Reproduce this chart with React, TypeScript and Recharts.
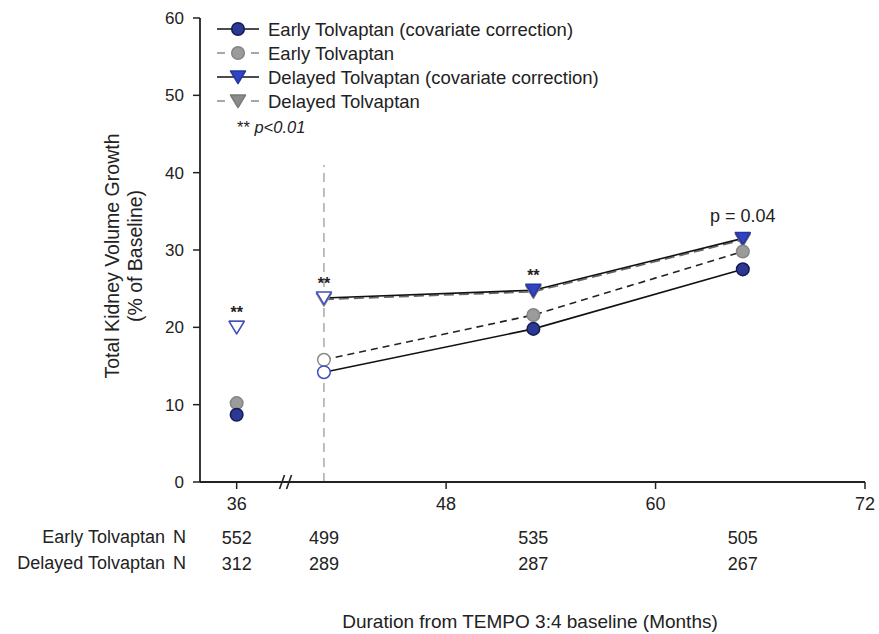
import React from "react";
import {
  ComposedChart,
  Line,
  Scatter,
  XAxis,
  YAxis,
  ReferenceLine,
  ReferenceDot,
} from "recharts";

// months since TEMPO 3:4 baseline
const months = [36, 41, 53, 65];
const earlyCovValues = [8.7, 14.2, 19.8, 27.5];
const earlyValues = [10.2, 15.8, 21.6, 29.8];
const delayedCovValues = [20.0, 23.8, 24.8, 31.5];
const delayedValues = [20.0, 23.6, 24.6, 31.3];
const delayedNotes = ["**", "**", "**", "p = 0.04"];
const earlyN = [552, 499, 535, 505];
const delayedN = [312, 289, 287, 267];
const xTicks = [36, 48, 60, 72];
const yTicks = [0, 10, 20, 30, 40, 50, 60];
const seriesNames = [
  "Early Tolvaptan (covariate correction)",
  "Early Tolvaptan",
  "Delayed Tolvaptan (covariate correction)",
  "Delayed Tolvaptan",
];
const breakMonth = 38.8;
const switchMonth = 41;
const switchLineTop = 41;

const FONT = "'Liberation Sans', Arial, sans-serif";
const TEXT = "#222";
const xDomain = [33.9, 72];

const toRows = (values: number[]) =>
  months.map((month, i) => ({ month, value: values[i] }));

const earlyCovRows = toRows(earlyCovValues);
const earlyRows = toRows(earlyValues);
const delayedCovRows = toRows(delayedCovValues);
const delayedRows = toRows(delayedValues);
const noteRows = months.map((month, i) => ({
  month,
  value: delayedCovValues[i],
  note: delayedNotes[i],
}));

type MarkerStyle = {
  kind: "circle" | "triangle";
  fill: string;
  stroke: string;
  openStroke: string;
  openMonths: number[];
};

const earlyCovStyle: MarkerStyle = {
  kind: "circle",
  fill: "#2b3894",
  stroke: "#141c55",
  openStroke: "#3d4fc4",
  openMonths: [41],
};
const earlyStyle: MarkerStyle = {
  kind: "circle",
  fill: "#9b9b9b",
  stroke: "#858585",
  openStroke: "#8a8a8a",
  openMonths: [41],
};
const delayedCovStyle: MarkerStyle = {
  kind: "triangle",
  fill: "#2f44c2",
  stroke: "#2536a0",
  openStroke: "#3d4fc4",
  openMonths: [36, 41],
};
const delayedStyle: MarkerStyle = {
  kind: "triangle",
  fill: "#8c8c8c",
  stroke: "#7a7a7a",
  openStroke: "#8a8a8a",
  openMonths: [36, 41],
};

function Marker({ cx, cy, kind, fill, stroke }: any) {
  if (cx == null || cy == null) return null;
  if (kind === "circle") {
    return <circle cx={cx} cy={cy} r={6.3} fill={fill} stroke={stroke} strokeWidth={1.5} />;
  }
  return (
    <path
      d={`M${cx - 7.5},${cy - 6}L${cx + 7.5},${cy - 6}L${cx},${cy + 6.5}Z`}
      fill={fill}
      stroke={stroke}
      strokeWidth={1.5}
      strokeLinejoin="round"
    />
  );
}

const markerFor = (style: MarkerStyle) => (props: any) => {
  const open = style.openMonths.includes(props.payload?.month);
  return (
    <Marker
      key={`m-${props.index}`}
      cx={props.cx}
      cy={props.cy}
      kind={style.kind}
      fill={open ? "#fff" : style.fill}
      stroke={open ? style.openStroke : style.stroke}
    />
  );
};

const NoteShape = (props: any) => {
  const note = props.payload?.note;
  if (!note) return <g />;
  const isStars = note === "**";
  return (
    <text
      x={props.cx}
      y={isStars ? props.cy - 9 : props.cy - 16}
      textAnchor="middle"
      fontSize={isStars ? 16 : 18}
      fontWeight={isStars ? "bold" : "normal"}
      fontFamily={FONT}
      fill={TEXT}
    >
      {note}
    </text>
  );
};

const BreakMark = (props: any) => {
  const { cx, cy } = props;
  if (cx == null || cy == null) return <g />;
  return (
    <g stroke="#222" strokeWidth={1.6}>
      <line x1={cx - 6} y1={cy + 7} x2={cx - 1} y2={cy - 7} />
      <line x1={cx + 1} y1={cy + 7} x2={cx + 6} y2={cy - 7} />
    </g>
  );
};

function LegendIcon({ y, style, dashed }: { y: number; style: MarkerStyle; dashed: boolean }) {
  return (
    <g>
      {dashed ? (
        <g stroke="#8a8a8a" strokeWidth={1.5}>
          <line x1={217} y1={y} x2={225} y2={y} />
          <line x1={251} y1={y} x2={259} y2={y} />
        </g>
      ) : (
        <line x1={217} y1={y} x2={259} y2={y} stroke="#111" strokeWidth={1.6} />
      )}
      <Marker cx={238} cy={y} kind={style.kind} fill={style.fill} stroke={style.stroke} />
    </g>
  );
}

const legendStyles = [earlyCovStyle, earlyStyle, delayedCovStyle, delayedStyle];

export default function App() {
  const tickStyle = { fontSize: 18, fill: TEXT, fontFamily: FONT };
  const nIndex = (m: number) => months.indexOf(m);

  return (
    <div style={{ position: "absolute", left: 0, top: 0, width: 879, height: 634, background: "#fff", fontFamily: FONT }}>
      <ComposedChart
        width={879}
        height={634}
        margin={{ top: 18, right: 14, left: 140, bottom: 64 }}
      >
        <XAxis
          type="number"
          dataKey="month"
          domain={xDomain}
          ticks={xTicks}
          interval={0}
          allowDataOverflow
          height={36}
          tickSize={7}
          tickMargin={8}
          tick={tickStyle}
          axisLine={{ stroke: "#222", strokeWidth: 1.8 }}
          tickLine={{ stroke: "#222", strokeWidth: 1.5 }}
        />
        <XAxis
          xAxisId="n1"
          type="number"
          dataKey="month"
          domain={xDomain}
          ticks={months}
          interval={0}
          allowDataOverflow
          height={26}
          tickSize={0}
          tickMargin={13}
          axisLine={false}
          tickLine={false}
          tick={tickStyle}
          tickFormatter={(m: number) => String(earlyN[nIndex(m)] ?? "")}
        />
        <XAxis
          xAxisId="n2"
          type="number"
          dataKey="month"
          domain={xDomain}
          ticks={months}
          interval={0}
          allowDataOverflow
          height={26}
          tickSize={0}
          tickMargin={13}
          axisLine={false}
          tickLine={false}
          tick={tickStyle}
          tickFormatter={(m: number) => String(delayedN[nIndex(m)] ?? "")}
        />
        <YAxis
          type="number"
          domain={[0, 60]}
          ticks={yTicks}
          interval={0}
          width={60}
          tickSize={7}
          tickMargin={9}
          tick={{ ...tickStyle, fontSize: 17 }}
          axisLine={{ stroke: "#222", strokeWidth: 1.8 }}
          tickLine={{ stroke: "#222", strokeWidth: 1.5 }}
        />

        <ReferenceLine
          segment={[
            { x: switchMonth, y: 0 },
            { x: switchMonth, y: switchLineTop },
          ]}
          stroke="#aaa"
          strokeWidth={1.5}
          strokeDasharray="9 6"
        />
        <ReferenceDot x={breakMonth} y={0} r={0} shape={BreakMark} />

        <Line
          data={delayedRows.slice(1)}
          dataKey="value"
          type="linear"
          stroke="#666"
          strokeWidth={1.6}
          strokeDasharray="10 5"
          dot={markerFor(delayedStyle)}
          activeDot={false}
          isAnimationActive={false}
        />
        <Line
          data={delayedCovRows.slice(1)}
          dataKey="value"
          type="linear"
          stroke="#111"
          strokeWidth={1.6}
          dot={markerFor(delayedCovStyle)}
          activeDot={false}
          isAnimationActive={false}
        />
        <Line
          data={earlyRows.slice(1)}
          dataKey="value"
          type="linear"
          stroke="#222"
          strokeWidth={1.6}
          strokeDasharray="7 5"
          dot={markerFor(earlyStyle)}
          activeDot={false}
          isAnimationActive={false}
        />
        <Line
          data={earlyCovRows.slice(1)}
          dataKey="value"
          type="linear"
          stroke="#111"
          strokeWidth={1.6}
          dot={markerFor(earlyCovStyle)}
          activeDot={false}
          isAnimationActive={false}
        />

        <Scatter data={delayedRows.slice(0, 1)} dataKey="value" shape={markerFor(delayedStyle)} isAnimationActive={false} />
        <Scatter data={delayedCovRows.slice(0, 1)} dataKey="value" shape={markerFor(delayedCovStyle)} isAnimationActive={false} />
        <Scatter data={earlyRows.slice(0, 1)} dataKey="value" shape={markerFor(earlyStyle)} isAnimationActive={false} />
        <Scatter data={earlyCovRows.slice(0, 1)} dataKey="value" shape={markerFor(earlyCovStyle)} isAnimationActive={false} />
        <Scatter data={noteRows} dataKey="value" shape={NoteShape} isAnimationActive={false} />
      </ComposedChart>

      <svg
        width={879}
        height={634}
        style={{ position: "absolute", left: 0, top: 0, pointerEvents: "none" }}
        fontFamily={FONT}
        fill={TEXT}
      >
        {seriesNames.map((name, i) => {
          const y = 29 + i * 24;
          return (
            <g key={name}>
              <LegendIcon y={y} style={legendStyles[i]} dashed={i % 2 === 1} />
              <text x={268} y={y} dominantBaseline="central" fontSize={18.5}>
                {name}
              </text>
            </g>
          );
        })}
        <text x={237} y={133} fontSize={16.5}>
          ** <tspan fontStyle="italic">p&lt;0.01</tspan>
        </text>

        <text transform="translate(112,256) rotate(-90)" textAnchor="middle" dominantBaseline="central" fontSize={19.5}>
          Total Kidney Volume Growth
        </text>
        <text transform="translate(135,256) rotate(-90)" textAnchor="middle" dominantBaseline="central" fontSize={19.5}>
          (% of Baseline)
        </text>

        <text x={165} y={537} textAnchor="end" dominantBaseline="central" fontSize={18}>
          Early Tolvaptan
        </text>
        <text x={173} y={537} dominantBaseline="central" fontSize={18}>
          N
        </text>
        <text x={165} y={563} textAnchor="end" dominantBaseline="central" fontSize={18}>
          Delayed Tolvaptan
        </text>
        <text x={173} y={563} dominantBaseline="central" fontSize={18}>
          N
        </text>

        <text x={530} y={621} textAnchor="middle" dominantBaseline="central" fontSize={19}>
          Duration from TEMPO 3:4 baseline (Months)
        </text>
      </svg>
    </div>
  );
}
